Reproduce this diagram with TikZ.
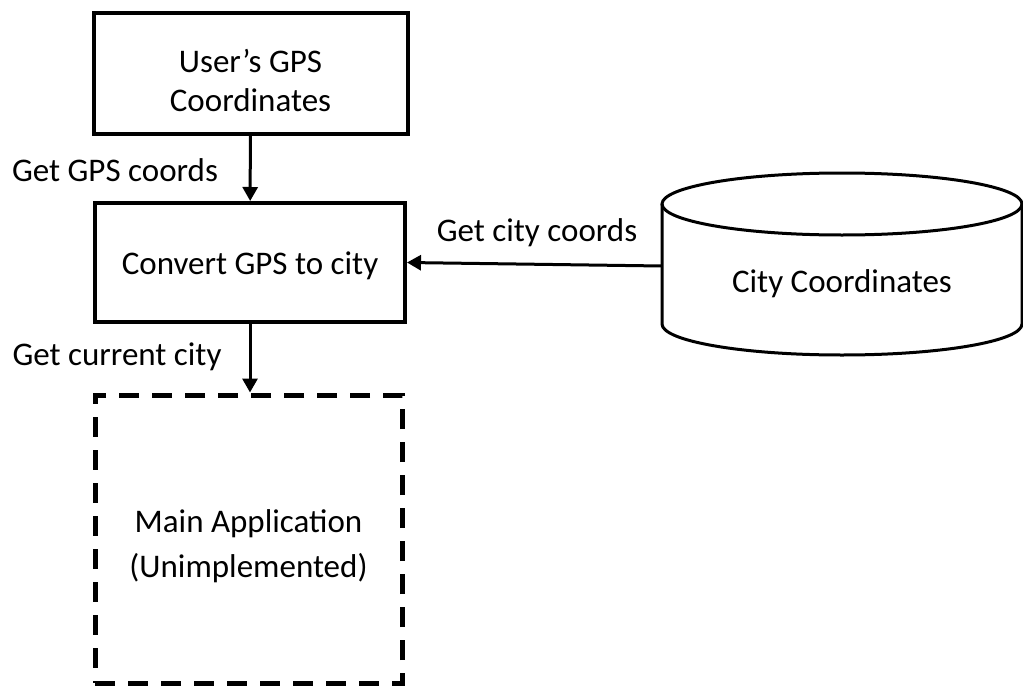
\documentclass[tikz,border=0pt]{standalone}
\usepackage{fontspec}
\setmainfont{Carlito}
\usetikzlibrary{arrows.meta, positioning}

\begin{document}
\begin{tikzpicture}[x=1pt, y=-1pt, font=\fontsize{33}{39}\selectfont]
        \tikzstyle{block} = [rectangle, draw=black, line width=4pt, align=center, inner sep=0pt]
        \tikzstyle{todo} = [rectangle, draw=black, line width=5pt, dash pattern=on 20pt off 13pt, align=center, inner sep=0pt]
        \tikzstyle{store} = [draw=black, line width=3pt]
        \tikzstyle{arrow} = [line width=3pt, -{Triangle[width=15pt, length=14pt]}]
        \tikzstyle{lbl} = [inner sep=0pt]

        \useasboundingbox (0,0) rectangle (1023,688);

        \node (gps) [block, minimum width=314pt, minimum height=121pt] at (250.5,73.5) {\rule{0pt}{38pt}User’s GPS\\Coordinates};
        \node (convert) [block, minimum width=310pt, minimum height=119pt] at (250,262.5) {\rule{0pt}{30pt}Convert GPS to city};
        \node (mainapp) [todo, minimum width=307pt, minimum height=288pt] at (248.5,539) {\rule{0pt}{38pt}Main Application\\[6pt](Unimplemented)};

        % database cylinder
        \coordinate (dbtl) at (662,204);
        \coordinate (dbbl) at (662,324);
        \coordinate (dbtr) at (1022,204);
        \coordinate (dbin) at (662,266);
        \draw [store] (dbtl) -- (dbbl) arc[start angle=180, end angle=360, x radius=180pt, y radius=31pt] -- (dbtr);
        \draw [store] (842,204) ellipse [x radius=180pt, y radius=31pt];
        \node (citydb) [lbl] at (842,284) {City Coordinates};

        \draw [arrow] (gps) -- (convert);
        \draw [arrow] (convert) -- (mainapp.north -| convert.south);
        \draw [arrow] (dbin) -- (convert.east);

        % connector labels
        \node (lgps) [lbl] at (115,170) {Get GPS coords};
        \node (lcity) [lbl] at (117,357) {Get current city};
        \node (lcoords) [lbl] at (537,233) {Get city coords};
    \end{tikzpicture}
\end{document}
